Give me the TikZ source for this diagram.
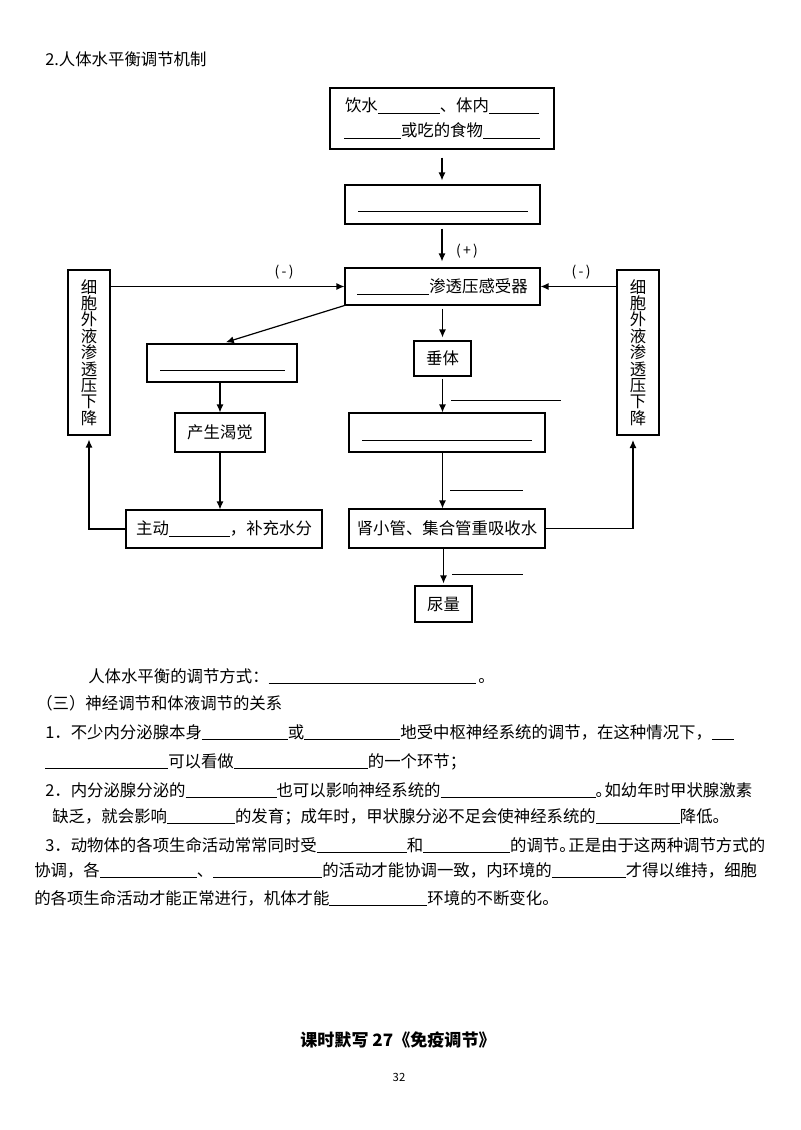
\documentclass[tikz,border=0pt]{standalone}
\usepackage{fontspec}
\setmainfont{Noto Sans CJK SC}
\usetikzlibrary{arrows.meta}
\newdimen\pxu \pxu=0.75pt
\newcommand{\bl}[1]{\rule[-1.6pt]{#1\pxu}{0.6pt}}
\newcommand{\hpu}[1]{\makebox[0.55em][l]{#1}}
\newcommand{\dgf}{\fontsize{12.3pt}{18.75pt}\selectfont}
\newcommand{\vtf}{\fontsize{12.3pt}{12.3pt}\selectfont}
\newcommand{\pgf}{\fontsize{12.3pt}{14pt}\selectfont}
\begin{document}
\begin{tikzpicture}[x=0.75pt,y=-0.75pt,
  box/.style={draw, line width=0.8pt, inner sep=0pt, font=\dgf, align=center},
  sz/.style 2 args={minimum width=#1*0.75pt, minimum height=#2*0.75pt},
  arr/.style={-{Latex[length=6pt,width=5.2pt]}, line width=0.9pt},
  blank/.style={line width=0.7pt},
  ptxt/.style={anchor=base west, inner sep=0pt, font=\pgf},
  sign/.style={inner sep=0pt, font=\fontsize{10.5pt}{12pt}\selectfont}]
\useasboundingbox (0,0) rectangle (800,1130);
\fill[white] (0,0) rectangle (800,1130);

% title
\node[ptxt] (title) at (45,66) {2.人体水平衡调节机制};

% boxes
\node[box, sz={224}{61}] (top) at (442,118.5) {饮水\bl{62}、体内\bl{50}\\\bl{57}或吃的食物\bl{57}};
\node[box, sz={195}{39}] (b2) at (442.5,204.5) {};
\node[box, sz={195}{37}] (osm) at (442.5,286.5) {\bl{72}渗透压感受器};
\node[box, sz={42}{165}, font=\vtf] (lc) at (89,352.5) {细\\胞\\外\\液\\渗\\透\\压\\下\\降};
\node[box, sz={42}{165}, font=\vtf] (rc) at (638,352.5) {细\\胞\\外\\液\\渗\\透\\压\\下\\降};
\node[box, sz={150}{38}] (lb) at (222,363) {};
\node[box, sz={90}{39}] (th) at (220,432.5) {产生渴觉};
\node[box, sz={196}{38}] (zd) at (224,529) {主动\bl{61}，补充水分};
\node[box, sz={57}{35}] (cz) at (442.5,358.5) {垂体};
\node[box, sz={196}{39}] (b5) at (447,432.5) {};
\node[box, sz={196}{39}] (sx) at (447,528.5) {肾小管、集合管重吸收水};
\node[box, sz={57}{36}] (ny) at (443.5,604) {尿量};

% blanks inside empty boxes
\draw[blank] (358,211) -- (528,211);
\draw[blank] (160,370) -- (285,370);
\draw[blank] (362,440) -- (532,440);

% connectors
\draw[arr, shorten <=8*0.75pt, shorten >=4*0.75pt] (top.south) -- (top.south |- b2.north);
\draw[arr, shorten <=4*0.75pt, shorten >=6*0.75pt] (top.south |- b2.south) -- (top.south |- osm.north);
\node[sign] (plus) at (467,251) {(\,+\,)};
\draw[arr] (lc.east |- osm.west) -- (osm.west);
\draw[arr] (rc.west |- osm.east) -- (osm.east);
\node[sign] (minl) at (284,272) {(\,-\,)};
\node[sign] (minr) at (581,272) {(\,-\,)};
\draw[arr, shorten >=4*0.75pt] (osm.south west) -- (lb.north);
\draw[arr] (th.north |- lb.south) -- (th.north);
\draw[arr] (th.south) -- (th.south |- zd.north);
\draw[arr, shorten >=4*0.75pt] (zd.west) -| (lc.south);
\draw[arr, shorten <=3*0.75pt, shorten >=3*0.75pt] (cz.north |- osm.south) -- (cz.north);
\draw[arr, shorten <=2*0.75pt] (cz.south) -- (cz.south |- b5.north);
\draw[arr] (cz.south |- b5.south) -- (cz.south |- sx.north);
\draw[arr, shorten >=2*0.75pt] (ny.north |- sx.south) -- (ny.north);
\coordinate (rcin) at (633,437);
\draw[arr, shorten >=3*0.75pt] (sx.east) -| (rcin);
\draw[blank] (451,400) -- (561,400);
\draw[blank] (450,490) -- (523,490);
\draw[blank] (452,574) -- (523,574);

% text below
\node[ptxt] (p0) at (88,682) {人体水平衡的调节方式：\bl{207}\,。};
\node[ptxt] (p1) at (36,709) {（三）神经调节和体液调节的关系};
\node[ptxt] (p2) at (45,738) {1．不少内分泌腺本身\bl{86}或\bl{96}地受中枢神经系统的调节，在这种情况下，\bl{22}};
\node[ptxt] (p3) at (45,767) {\bl{123}可以看做\bl{134}的一个环节；};
\node[ptxt] (p4) at (45,796) {2．内分泌腺分泌的\bl{91}也可以影响神经系统的\bl{155}\hpu{。}如幼年时甲状腺激素};
\node[ptxt] (p5) at (52,822) {缺乏，就会影响\bl{68}的发育；成年时，甲状腺分泌不足会使神经系统的\bl{84}降低。};
\node[ptxt] (p6) at (45,851) {3．动物体的各项生命活动常常同时受\bl{90}和\bl{87}的调节\hpu{。}正是由于这两种调节方式的};
\node[ptxt] (p7) at (34,876) {协调，各\bl{97}、\bl{109}的活动才能协调一致，内环境的\bl{74}才得以维持，细胞};
\node[ptxt] (p8) at (34,904) {的各项生命活动才能正常进行，机体才能\bl{98}环境的不断变化。};

\node[inner sep=0pt, font=\fontsize{12.8pt}{15pt}\selectfont\bfseries] (h27) at (398,1040) {课时默写 27《免疫调节》};
\node[inner sep=0pt, font=\fontsize{8.5pt}{10pt}\selectfont] (pg) at (399,1077) {32};
\end{tikzpicture}
\end{document}
